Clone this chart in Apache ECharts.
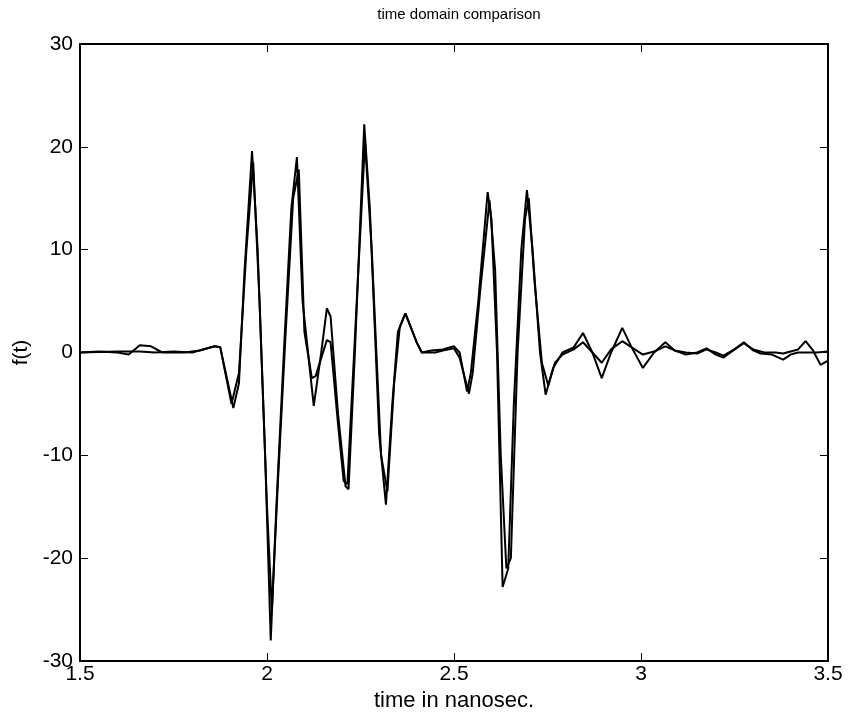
<!DOCTYPE html>
<html>
<head>
<meta charset="utf-8">
<script src="https://cdn.jsdelivr.net/npm/echarts@6/dist/echarts.min.js"></script>
<style>html,body{margin:0;padding:0;background:#fff}#c{width:857px;height:714px}</style>
</head>
<body>
<div id="c"></div>
<script>
// Series A (larger oscillations)
var tA = [1.5,1.55,1.6,1.63,1.66,1.69,1.72,1.78,1.82,1.86,1.875,1.91,1.925,1.94,1.96,1.975,1.995,2.01,2.025,2.045,2.065,2.08,2.095,2.125,2.145,2.16,2.17,2.19,2.21,2.218,2.235,2.26,2.275,2.3,2.318,2.335,2.35,2.37,2.4,2.414,2.44,2.47,2.5,2.515,2.535,2.545,2.565,2.59,2.6,2.615,2.63,2.645,2.66,2.68,2.695,2.71,2.73,2.745,2.765,2.79,2.82,2.845,2.87,2.895,2.92,2.95,2.975,3.005,3.035,3.065,3.09,3.12,3.15,3.175,3.2,3.22,3.25,3.275,3.3,3.32,3.35,3.38,3.4,3.42,3.47,3.5];
var vA = [0,0.1,0,-0.2,0.7,0.6,0,0,0.2,0.6,0.5,-5.4,-3,8,19.6,10,-10,-28,-15,0,14,19,5,-5.2,0,4.3,3.5,-6,-13,-13.3,0,22.2,14,-8,-14.8,-5,2,3.8,1,0,0.2,0.3,0.6,0,-3.8,-2,5,15.6,13,0,-22.8,-21,-5,10,15.8,10,0,-4.1,-1.5,0,0.5,1.9,0,-2.5,0,2.4,0.5,-1.5,0,1,0.2,-0.2,0,0.4,-0.2,-0.5,0.3,1,0.2,-0.1,-0.2,-0.7,-0.2,0,0,0.1];
// Series B (smoother)
var tB = [1.5,1.6,1.66,1.7,1.75,1.8,1.86,1.875,1.905,1.925,1.945,1.963,1.98,2.0,2.013,2.03,2.05,2.07,2.085,2.1,2.12,2.13,2.16,2.17,2.19,2.205,2.215,2.24,2.262,2.28,2.305,2.322,2.34,2.355,2.37,2.4,2.414,2.45,2.47,2.5,2.515,2.54,2.55,2.57,2.595,2.61,2.625,2.64,2.652,2.67,2.69,2.7,2.715,2.735,2.752,2.77,2.79,2.82,2.845,2.87,2.895,2.92,2.95,2.975,3.005,3.035,3.065,3.09,3.12,3.15,3.175,3.2,3.22,3.25,3.275,3.3,3.33,3.36,3.38,3.42,3.44,3.46,3.48,3.5];
var vB = [0,0.1,0.1,0,0.1,0,0.6,0.5,-5,-2,10,18.5,5,-15,-25,-12,2,15,17.8,2,-2.5,-2.3,1.2,1,-7,-12.5,-12.8,5,20.5,10,-10,-13.5,-3,2.5,3.8,1,0,0,0.2,0.4,-0.5,-4,-2,6,14.8,8,-10,-21,-20,0,13,15,7,-1,-3.2,-1,-0.2,0.3,1,0,-1,0.3,1.1,0.5,-0.2,0.1,0.6,0.2,0,-0.1,0.3,0,-0.3,0.3,0.9,0.3,0,0,-0.1,0.3,1.1,0.2,-1.2,-0.8];
var xTicks = [1.5,2,2.5,3,3.5];
var yTicks = [-30,-20,-10,0,10,20,30];

function pairs(t, v){ return t.map(function(x,i){ return [x, v[i]]; }); }

var font = 'Liberation Sans, Arial, sans-serif';
var chart = echarts.init(document.getElementById('c'), null, {renderer:'canvas'});
function ax(extra){
  var base = {
    axisLine:{show:true, onZero:false, lineStyle:{color:'#000', width:2}},
    axisTick:{show:true, inside:true, length:8, lineStyle:{color:'#000', width:1}},
    splitLine:{show:false}
  };
  for (var k in extra) base[k] = extra[k];
  return base;
}
chart.setOption({
  animation:false,
  backgroundColor:'#fff',
  title:{text:'time domain comparison', left:454, top:2, textAlign:'center',
    textStyle:{fontFamily:font, fontSize:15, fontWeight:'normal', color:'#000'}},
  grid:{left:80, right:29, top:44, bottom:53, containLabel:false, outerBoundsMode:'none'},
  xAxis:[ax({
    type:'value', min:1.5, max:3.5, interval:0.5, position:'bottom',
    name:'time in nanosec.', nameLocation:'middle', nameGap:26,
    nameTextStyle:{fontFamily:font, fontSize:22, color:'#000'},
    axisLabel:{fontFamily:font, fontSize:21, color:'#000', margin:3,
      formatter:function(v){ return xTicks.indexOf(v) >= 0 ? String(v) : ''; }}
  }), ax({
    type:'value', min:1.5, max:3.5, interval:0.5, position:'top',
    axisLabel:{show:false}
  })],
  yAxis:[ax({
    type:'value', min:-30, max:30, interval:10, position:'left',
    name:'f(t)', nameLocation:'middle', nameGap:48, nameRotate:90,
    nameTextStyle:{fontFamily:font, fontSize:21, color:'#000'},
    axisLabel:{fontFamily:font, fontSize:21, color:'#000', margin:7,
      formatter:function(v){ return yTicks.indexOf(v) >= 0 ? String(v) : ''; }}
  }), ax({
    type:'value', min:-30, max:30, interval:10, position:'right',
    axisLabel:{show:false}
  })],
  series:[
    {type:'line', data:pairs(tA, vA), showSymbol:false, symbol:'none',
      lineStyle:{color:'#000', width:2}, xAxisIndex:0, yAxisIndex:0},
    {type:'line', data:pairs(tB, vB), showSymbol:false, symbol:'none',
      lineStyle:{color:'#000', width:2}, xAxisIndex:0, yAxisIndex:0}
  ]
});
</script>
</body>
</html>
